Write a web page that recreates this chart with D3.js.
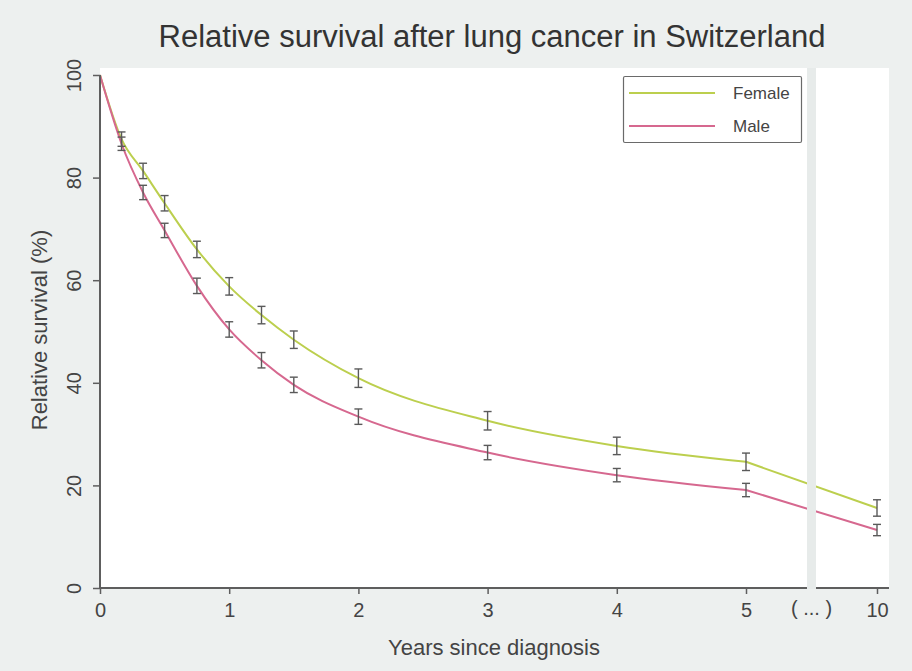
<!DOCTYPE html>
<html><head><meta charset="utf-8">
<script src="https://cdn.jsdelivr.net/npm/d3@7"></script>
<style>
html,body{margin:0;padding:0;background:#edf0ef;}
svg{display:block;font-family:"Liberation Sans",Arial,sans-serif;}
</style></head>
<body>
<script>
const years = [0, 1/6, 1/3, 0.5, 0.75, 1, 1.25, 1.5, 2, 3, 4, 5, 10];
const female = [100, 87.5, 81.3, 75.0, 66.0, 58.8, 53.2, 48.4, 40.9, 32.6, 27.7, 24.6, 15.6];
const femaleErr = [0, 1.4, 1.5, 1.5, 1.6, 1.7, 1.7, 1.7, 1.8, 1.8, 1.7, 1.7, 1.6];
const male = [100, 86.6, 77.1, 69.7, 58.9, 50.4, 44.4, 39.6, 33.4, 26.4, 22.0, 19.1, 11.3];
const maleErr = [0, 1.3, 1.4, 1.4, 1.5, 1.5, 1.5, 1.5, 1.5, 1.4, 1.3, 1.3, 1.1];
const xTicks = [0, 1, 2, 3, 4, 5, 10];
const yTicks = [0, 20, 40, 60, 80, 100];
const breakYear = 7.5;
const breakLabel = "( ... )";
const seriesNames = ["Female", "Male"];
const colors = ["#bccf4e", "#d6688f"];

const W = 912, H = 671;
const svg = d3.select("body").append("svg").attr("width", W).attr("height", H);
svg.append("rect").attr("width", W).attr("height", H).attr("fill", "#edf0ef");

const x = d3.scaleLinear().domain([0, 5, 10]).range([100, 746, 877]);
const y = d3.scaleLinear().domain([0, 100]).range([588, 75]);
const plotRight = 889, plotTop = 68;

// white plot area
svg.append("rect").attr("x", 100).attr("y", plotTop).attr("width", plotRight - 100).attr("height", y(0) - plotTop).attr("fill", "#ffffff");

const series = [
  {name: seriesNames[0], vals: female, err: femaleErr, color: colors[0]},
  {name: seriesNames[1], vals: male, err: maleErr, color: colors[1]}
];

const curved = d3.line().x(d => x(d[0])).y(d => y(d[1])).curve(d3.curveMonotoneX);
const straight = d3.line().x(d => x(d[0])).y(d => y(d[1]));

series.forEach(s => {
  const pts = years.map((t, i) => [t, s.vals[i]]);
  svg.append("path").attr("d", curved(pts.slice(0, 12))).attr("fill", "none").attr("stroke", s.color).attr("stroke-width", 2);
  svg.append("path").attr("d", straight(pts.slice(11))).attr("fill", "none").attr("stroke", s.color).attr("stroke-width", 2);
});

// error bars
series.forEach(s => {
  const g = svg.append("g").attr("stroke", "#5a5a5a").attr("stroke-width", 1.4);
  years.forEach((t, i) => {
    if (s.err[i] <= 0) return;
    const cx = x(t), y1 = y(s.vals[i] + s.err[i]), y2 = y(s.vals[i] - s.err[i]);
    g.append("line").attr("x1", cx).attr("x2", cx).attr("y1", y1).attr("y2", y2);
    g.append("line").attr("x1", cx - 4).attr("x2", cx + 4).attr("y1", y1).attr("y2", y1);
    g.append("line").attr("x1", cx - 4).attr("x2", cx + 4).attr("y1", y2).attr("y2", y2);
  });
});

// axes
const axisColor = "#5e5e5e";
const yAxis = svg.append("g").attr("transform", "translate(100,0)")
  .call(d3.axisLeft(y).tickValues(yTicks).tickSize(7).tickFormat(d3.format("d")));
yAxis.select(".domain").attr("stroke", axisColor).attr("stroke-width", 2).attr("d", `M0,${y(100)}V${y(0)}`);
yAxis.selectAll(".tick line").attr("stroke", axisColor).attr("stroke-width", 1.5);
yAxis.selectAll(".tick text").attr("fill", "#444").attr("font-size", 20)
  .attr("text-anchor", "middle").attr("transform", "translate(-19,0) rotate(-90)")
  .attr("x", 0).attr("y", 0).attr("dy", 0);

const xAxis = svg.append("g").attr("transform", `translate(0,${y(0)})`)
  .call(d3.axisBottom(x).tickValues(xTicks).tickSize(6).tickFormat(d3.format("d")));
xAxis.select(".domain").attr("stroke", axisColor).attr("stroke-width", 2).attr("d", `M100,0H${plotRight}`);
xAxis.selectAll(".tick line").attr("stroke", axisColor).attr("stroke-width", 1.5);
xAxis.selectAll(".tick text").attr("fill", "#444").attr("font-size", 20).attr("y", 0).attr("dy", 29);

xAxis.append("text").attr("x", x(breakYear)).attr("y", 27).attr("text-anchor", "middle")
  .attr("fill", "#444").attr("font-size", 20).text(breakLabel);

// break band (drawn over lines and axis)
svg.append("rect").attr("x", x(breakYear) - 4.5).attr("y", plotTop).attr("width", 9).attr("height", y(0) - plotTop + 1)
  .attr("fill", "#e7ebea");

// titles
svg.append("text").attr("x", 492).attr("y", 47).attr("text-anchor", "middle").attr("fill", "#333")
  .attr("font-size", 31).text("Relative survival after lung cancer in Switzerland");
svg.append("text").attr("x", 494).attr("y", 655).attr("text-anchor", "middle").attr("fill", "#444")
  .attr("font-size", 22).text("Years since diagnosis");
svg.append("text").attr("transform", "translate(47,330) rotate(-90)").attr("text-anchor", "middle").attr("fill", "#444")
  .attr("font-size", 22).text("Relative survival (%)");

// legend
const lg = svg.append("g");
lg.append("rect").attr("x", 623.5).attr("y", 76.5).attr("width", 178).attr("height", 66).attr("rx", 1.5)
  .attr("fill", "#fff").attr("stroke", "#6a6a6a").attr("stroke-width", 1.2);
series.forEach((s, i) => {
  const ly = 93 + i * 33;
  lg.append("line").attr("x1", 629).attr("x2", 715).attr("y1", ly).attr("y2", ly).attr("stroke", s.color).attr("stroke-width", 2);
  lg.append("text").attr("x", 733).attr("y", ly + 6).attr("fill", "#444").attr("font-size", 17).text(s.name);
});
</script>
</body></html>
